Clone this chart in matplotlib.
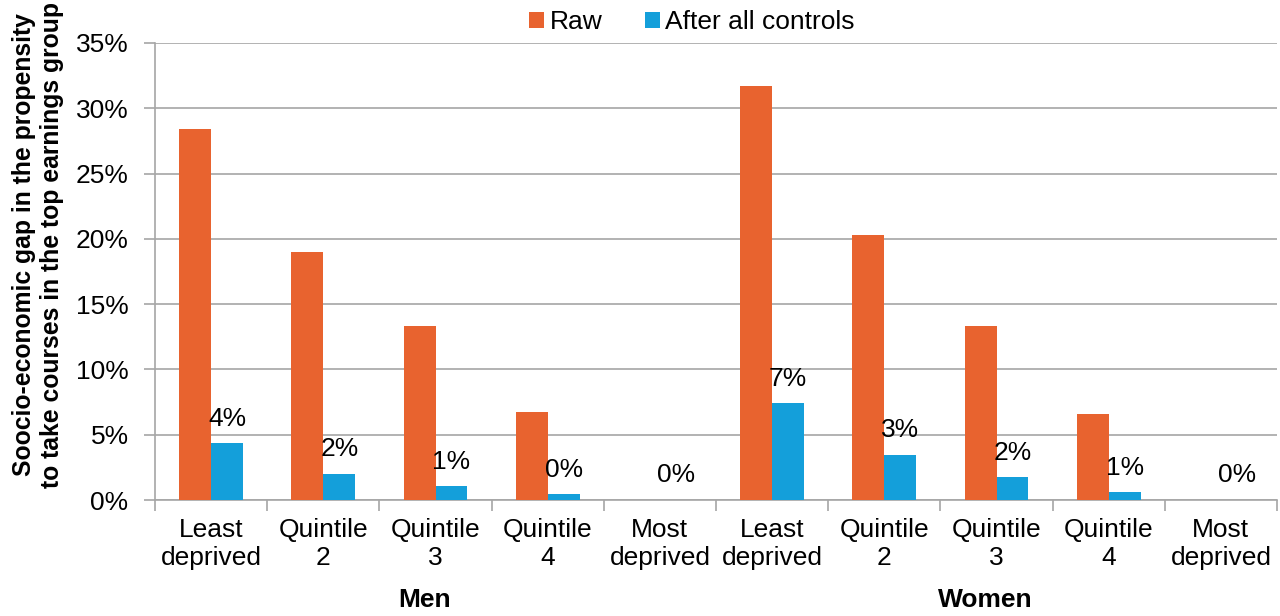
import matplotlib.pyplot as plt
import matplotlib.transforms as mtransforms
import numpy as np

plt.rcParams['font.family'] = ['Liberation Sans', 'DejaVu Sans']

categories = ['Least\ndeprived', 'Quintile\n2', 'Quintile\n3', 'Quintile\n4', 'Most\ndeprived'] * 2
groups = ['Men', 'Women']
raw = [28.4, 19.0, 13.3, 6.75, 0.0, 31.7, 20.3, 13.3, 6.6, 0.0]
after_controls = [4.35, 2.0, 1.05, 0.45, 0.0, 7.4, 3.45, 1.75, 0.6, 0.0]

orange = '#E8632F'
blue = '#149FDA'
grey = '#A6A6A6'

fig = plt.figure(figsize=(12.8, 6.16), dpi=100)
ax = fig.add_axes([155 / 1280, 1 - 500 / 616, 1122 / 1280, 457 / 616])

x = np.arange(len(categories))
w = 0.285
b1 = ax.bar(x - w / 2, raw, w, color=orange, label='Raw', zorder=3)
b2 = ax.bar(x + w / 2, after_controls, w, color=blue, label='After all controls', zorder=3)
ax.bar_label(b2, labels=[f'{v:.0f}%' for v in after_controls], padding=9, fontsize=19)

ax.set_xlim(-0.5, len(categories) - 0.5)
ax.set_ylim(0, 35)
ax.set_yticks(np.arange(0, 36, 5))
ax.set_yticklabels([f'{v}%' for v in range(0, 36, 5)])
ax.yaxis.grid(True, color=grey, linewidth=1.2, zorder=0)
ax.set_axisbelow(True)

ax.set_xticks(x)
ax.set_xticklabels(categories, fontsize=19)
ax.set_xticks(np.arange(-0.5, len(categories)), minor=True)
ax.tick_params(axis='x', which='major', length=0, pad=13)
ax.tick_params(axis='x', which='minor', length=8, color=grey, width=1.2)
ax.tick_params(axis='y', length=8, color=grey, width=1.2, pad=11, labelsize=19)

for s in ['top', 'right']:
    ax.spines[s].set_visible(False)
for s in ['left', 'bottom']:
    ax.spines[s].set_color(grey)
    ax.spines[s].set_linewidth(1.2)

# group names under the category labels
trans = mtransforms.blended_transform_factory(ax.transData, ax.transAxes)
for i, g in enumerate(groups):
    ax.text(2 + 5 * i - 0.1, -100 / 457, g, ha='center', va='center', fontsize=19,
            fontweight='bold', transform=trans, clip_on=False)

fig.text(0.0297, 1 - 245 / 616,
         'Soocio-economic gap in the propensity\nto take courses in the top earnings group',
         rotation=90, ha='center', va='center', multialignment='center',
         fontsize=17.8, fontweight='bold')

fig.legend(loc='center', bbox_to_anchor=(692 / 1280, 1 - 22 / 616), ncol=2, frameon=False,
           fontsize=19, handlelength=0.57, handleheight=0.57, handletextpad=0.2,
           columnspacing=1.6)

fig.savefig('out.png', dpi=100)
